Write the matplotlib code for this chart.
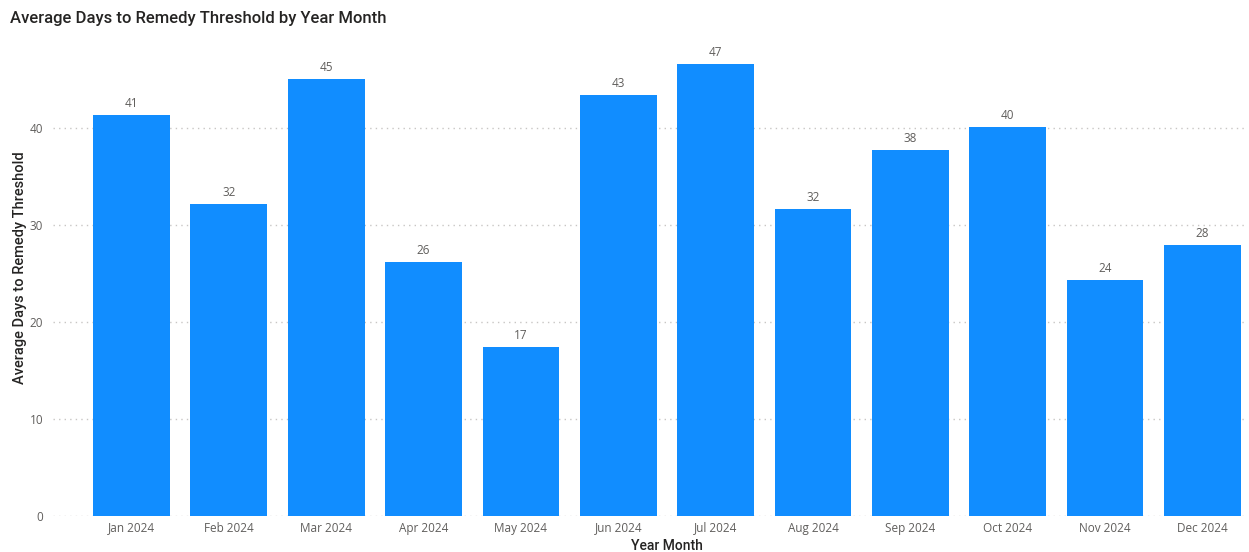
import matplotlib
matplotlib.use("Agg")
import matplotlib.pyplot as plt

months = ["Jan 2024", "Feb 2024", "Mar 2024", "Apr 2024", "May 2024", "Jun 2024",
          "Jul 2024", "Aug 2024", "Sep 2024", "Oct 2024", "Nov 2024", "Dec 2024"]
values = [41.4, 32.2, 45.1, 26.2, 17.4, 43.4, 46.6, 31.7, 37.8, 40.1, 24.4, 28.0]
yticks = [0, 10, 20, 30, 40]

fig = plt.figure(figsize=(12.49, 5.52), dpi=100)
ax = fig.add_axes([53/1249, 36/552, (1247-53)/1249, (516-45)/552])

x = list(range(len(months)))
ax.bar(x, values, width=0.788, color="#118DFF", zorder=3)
for xi, v in zip(x, values):
    ax.annotate(f"{v:.0f}", (xi, v), xytext=(0, 3.6), textcoords="offset points",
                ha="center", va="bottom", fontsize=8.5, color="#605E5C",
                family="Open Sans")

ax.set_xlim(-0.806, 11.457)
ax.set_ylim(0, 48.6)
ax.set_yticks(yticks)
ax.set_xticks(x)
ax.set_xticklabels(months, fontsize=8.5, color="#605E5C", family="Open Sans")
ax.set_yticklabels([str(t) for t in yticks], fontsize=8.5, color="#605E5C", family="Open Sans")
ax.tick_params(axis="both", length=0)
ax.tick_params(axis="x", pad=4)
ax.tick_params(axis="y", pad=7)
ax.yaxis.grid(True, linestyle=(0, (1, 3)), color="#C8C6C4", linewidth=1, zorder=0)
for s in ax.spines.values():
    s.set_visible(False)

ax.set_xlabel("Year Month", fontsize=10, color="#252423", family="Roboto",
              fontweight="medium")
ax.xaxis.set_label_coords((667-53)/1194, -(546-516)/471, transform=ax.transAxes)
ax.xaxis.label.set_va("center")
ax.set_ylabel("Average Days to Remedy Threshold", fontsize=10.5, color="#252423",
              family="Roboto", fontweight="medium")
ax.yaxis.set_label_coords(-(53-20)/1194, (516-268)/471, transform=ax.transAxes)
ax.yaxis.label.set_va("center")

fig.text(10/1249, 1 - 18/552, "Average Days to Remedy Threshold by Year Month",
         fontsize=12, color="#252423", family="Roboto", fontweight="medium",
         va="center", ha="left")

fig.savefig("out.png", dpi=100)
